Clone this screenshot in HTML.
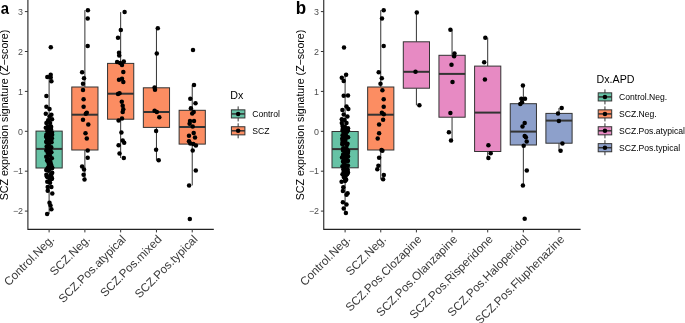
<!DOCTYPE html>
<html><head><meta charset="utf-8"><style>
*{margin:0;padding:0}
html,body{width:685px;height:323px;background:#fff;overflow:hidden}
svg{display:block;will-change:transform;font-family:"Liberation Sans",sans-serif}
.wh{stroke:#333;stroke-width:1}
.bx{stroke:#333;stroke-width:1}
.md{stroke:#333;stroke-width:2}
.ax{stroke:#222;stroke-width:1.1}
.tk{stroke:#333;stroke-width:1}
.yt{font-size:8.9px;fill:#4d4d4d;text-anchor:end}
.xt{font-size:11.7px;fill:#3a3a3a;text-anchor:end}
.ytl{font-size:10.6px;fill:#000;text-anchor:middle}
.let{font-size:16px;font-weight:bold;fill:#000}
.lt{font-size:10.7px;fill:#000}
.ll{font-size:8.6px;fill:#000}
circle{fill:#000}
</style></head><body>
<svg width="685" height="323" viewBox="0 0 685 323">
<line x1="49.1" y1="75" x2="49.1" y2="131.1" class="wh"/>
<line x1="49.1" y1="168" x2="49.1" y2="214" class="wh"/>
<rect x="36" y="131.1" width="26.2" height="36.9" fill="#66C2A5" class="bx"/>
<line x1="36" y1="148.9" x2="62.2" y2="148.9" class="md"/>
<line x1="84.88" y1="10.2" x2="84.88" y2="87" class="wh"/>
<line x1="84.88" y1="150" x2="84.88" y2="179.4" class="wh"/>
<rect x="71.78" y="87" width="26.2" height="63" fill="#FC8D62" class="bx"/>
<line x1="71.78" y1="114.7" x2="97.98" y2="114.7" class="md"/>
<line x1="120.66" y1="12.1" x2="120.66" y2="63.4" class="wh"/>
<line x1="120.66" y1="119.2" x2="120.66" y2="158" class="wh"/>
<rect x="107.56" y="63.4" width="26.2" height="55.8" fill="#FC8D62" class="bx"/>
<line x1="107.56" y1="93.7" x2="133.76" y2="93.7" class="md"/>
<line x1="156.44" y1="28.2" x2="156.44" y2="87.8" class="wh"/>
<line x1="156.44" y1="127.4" x2="156.44" y2="160.3" class="wh"/>
<rect x="143.34" y="87.8" width="26.2" height="39.6" fill="#FC8D62" class="bx"/>
<line x1="143.34" y1="112" x2="169.54" y2="112" class="md"/>
<line x1="192.22" y1="85.1" x2="192.22" y2="110.3" class="wh"/>
<line x1="192.22" y1="144.1" x2="192.22" y2="185.4" class="wh"/>
<rect x="179.12" y="110.3" width="26.2" height="33.8" fill="#FC8D62" class="bx"/>
<line x1="179.12" y1="127" x2="205.32" y2="127" class="md"/>
<circle cx="50.8" cy="47.2" r="2.25"/>
<circle cx="47.3" cy="77.1" r="2.25"/>
<circle cx="50.7" cy="74.7" r="2.25"/>
<circle cx="50.7" cy="77.4" r="2.25"/>
<circle cx="51.4" cy="81.2" r="2.25"/>
<circle cx="46.4" cy="96" r="2.25"/>
<circle cx="46.4" cy="106.8" r="2.25"/>
<circle cx="49.5" cy="109.1" r="2.25"/>
<circle cx="45.8" cy="113.7" r="2.25"/>
<circle cx="51.4" cy="114.7" r="2.25"/>
<circle cx="49.5" cy="116.5" r="2.25"/>
<circle cx="52" cy="119.3" r="2.25"/>
<circle cx="48.2" cy="120.2" r="2.25"/>
<circle cx="46.4" cy="123" r="2.25"/>
<circle cx="50.1" cy="123" r="2.25"/>
<circle cx="45.8" cy="127.7" r="2.25"/>
<circle cx="49.2" cy="128" r="2.25"/>
<circle cx="51" cy="127.7" r="2.25"/>
<circle cx="47.7" cy="187" r="2.25"/>
<circle cx="51.4" cy="187" r="2.25"/>
<circle cx="47.7" cy="190.7" r="2.25"/>
<circle cx="52.3" cy="193.5" r="2.25"/>
<circle cx="49.5" cy="202.8" r="2.25"/>
<circle cx="50.5" cy="205.6" r="2.25"/>
<circle cx="51.4" cy="209.3" r="2.25"/>
<circle cx="47.1" cy="214" r="2.25"/>
<circle cx="49.47" cy="128.26" r="2.25"/>
<circle cx="48.89" cy="130.62" r="2.25"/>
<circle cx="49.64" cy="128.54" r="2.25"/>
<circle cx="49.17" cy="126.92" r="2.25"/>
<circle cx="50.92" cy="129.15" r="2.25"/>
<circle cx="47.88" cy="126.47" r="2.25"/>
<circle cx="51.02" cy="126.45" r="2.25"/>
<circle cx="46.26" cy="156.66" r="2.25"/>
<circle cx="51.98" cy="167.34" r="2.25"/>
<circle cx="49.82" cy="155.2" r="2.25"/>
<circle cx="46.09" cy="136.83" r="2.25"/>
<circle cx="46.37" cy="150.55" r="2.25"/>
<circle cx="47.5" cy="138.04" r="2.25"/>
<circle cx="48.88" cy="132.11" r="2.25"/>
<circle cx="51.22" cy="147.3" r="2.25"/>
<circle cx="49.97" cy="150.21" r="2.25"/>
<circle cx="50.11" cy="149.49" r="2.25"/>
<circle cx="47.72" cy="147.92" r="2.25"/>
<circle cx="52.17" cy="167.91" r="2.25"/>
<circle cx="50.39" cy="162.09" r="2.25"/>
<circle cx="47.42" cy="142.67" r="2.25"/>
<circle cx="46.44" cy="141.69" r="2.25"/>
<circle cx="48.48" cy="159.35" r="2.25"/>
<circle cx="48.4" cy="162.32" r="2.25"/>
<circle cx="51.25" cy="166.45" r="2.25"/>
<circle cx="47.3" cy="131.02" r="2.25"/>
<circle cx="48.91" cy="164.68" r="2.25"/>
<circle cx="48.46" cy="167.27" r="2.25"/>
<circle cx="49.9" cy="133.7" r="2.25"/>
<circle cx="47.67" cy="159.8" r="2.25"/>
<circle cx="48.06" cy="134.22" r="2.25"/>
<circle cx="50.7" cy="166.67" r="2.25"/>
<circle cx="47.53" cy="135.37" r="2.25"/>
<circle cx="46.37" cy="134.74" r="2.25"/>
<circle cx="47.1" cy="160.49" r="2.25"/>
<circle cx="48.77" cy="151.69" r="2.25"/>
<circle cx="50.54" cy="138.06" r="2.25"/>
<circle cx="49.99" cy="135.85" r="2.25"/>
<circle cx="48.61" cy="135.31" r="2.25"/>
<circle cx="47.67" cy="138.88" r="2.25"/>
<circle cx="50.98" cy="166.92" r="2.25"/>
<circle cx="51.49" cy="142.25" r="2.25"/>
<circle cx="48.44" cy="138.8" r="2.25"/>
<circle cx="49.98" cy="162.61" r="2.25"/>
<circle cx="52.13" cy="134.71" r="2.25"/>
<circle cx="47.6" cy="138.89" r="2.25"/>
<circle cx="48.04" cy="159.59" r="2.25"/>
<circle cx="46.46" cy="141.96" r="2.25"/>
<circle cx="49.61" cy="134.33" r="2.25"/>
<circle cx="49.73" cy="139.99" r="2.25"/>
<circle cx="48.81" cy="144.75" r="2.25"/>
<circle cx="49" cy="166.49" r="2.25"/>
<circle cx="51.37" cy="152.26" r="2.25"/>
<circle cx="46.96" cy="137.76" r="2.25"/>
<circle cx="51.07" cy="164.61" r="2.25"/>
<circle cx="47.18" cy="140.23" r="2.25"/>
<circle cx="51.83" cy="158.36" r="2.25"/>
<circle cx="51.89" cy="138.27" r="2.25"/>
<circle cx="49.74" cy="163.64" r="2.25"/>
<circle cx="46.64" cy="146.59" r="2.25"/>
<circle cx="51.97" cy="132.43" r="2.25"/>
<circle cx="50.37" cy="139.82" r="2.25"/>
<circle cx="51.11" cy="140.51" r="2.25"/>
<circle cx="47.82" cy="153.07" r="2.25"/>
<circle cx="50.47" cy="137.49" r="2.25"/>
<circle cx="47.42" cy="169.03" r="2.25"/>
<circle cx="51.28" cy="176.39" r="2.25"/>
<circle cx="47.74" cy="177.21" r="2.25"/>
<circle cx="47.26" cy="181.76" r="2.25"/>
<circle cx="47.67" cy="168.25" r="2.25"/>
<circle cx="46.37" cy="174.69" r="2.25"/>
<circle cx="48.29" cy="170.64" r="2.25"/>
<circle cx="46.82" cy="176.58" r="2.25"/>
<circle cx="51.52" cy="173.43" r="2.25"/>
<circle cx="50.07" cy="182.71" r="2.25"/>
<circle cx="49.62" cy="178.37" r="2.25"/>
<circle cx="46.22" cy="170.11" r="2.25"/>
<circle cx="51.64" cy="168.27" r="2.25"/>
<circle cx="51.97" cy="178.51" r="2.25"/>
<circle cx="49.94" cy="168.32" r="2.25"/>
<circle cx="50.53" cy="175.23" r="2.25"/>
<circle cx="52.2" cy="172.78" r="2.25"/>
<circle cx="49.39" cy="169.13" r="2.25"/>
<circle cx="51.58" cy="179.06" r="2.25"/>
<circle cx="50.36" cy="179.06" r="2.25"/>
<circle cx="87.9" cy="10.2" r="2.25"/>
<circle cx="87.7" cy="18.6" r="2.25"/>
<circle cx="87.7" cy="46.1" r="2.25"/>
<circle cx="82.1" cy="72.3" r="2.25"/>
<circle cx="84" cy="78.3" r="2.25"/>
<circle cx="83" cy="83.8" r="2.25"/>
<circle cx="83" cy="90" r="2.25"/>
<circle cx="83.6" cy="99.3" r="2.25"/>
<circle cx="83.6" cy="106.7" r="2.25"/>
<circle cx="86.8" cy="112.7" r="2.25"/>
<circle cx="85.8" cy="113.7" r="2.25"/>
<circle cx="83" cy="119.7" r="2.25"/>
<circle cx="88.3" cy="124.5" r="2.25"/>
<circle cx="85.5" cy="133.3" r="2.25"/>
<circle cx="86.8" cy="138.5" r="2.25"/>
<circle cx="87.7" cy="150.5" r="2.25"/>
<circle cx="87.7" cy="157.8" r="2.25"/>
<circle cx="82.1" cy="166.4" r="2.25"/>
<circle cx="84" cy="169.5" r="2.25"/>
<circle cx="83.6" cy="174.7" r="2.25"/>
<circle cx="84.5" cy="179.4" r="2.25"/>
<circle cx="124.6" cy="12.1" r="2.25"/>
<circle cx="120.8" cy="30.1" r="2.25"/>
<circle cx="118" cy="37.8" r="2.25"/>
<circle cx="119" cy="52.8" r="2.25"/>
<circle cx="119.2" cy="55.6" r="2.25"/>
<circle cx="117.1" cy="62.1" r="2.25"/>
<circle cx="120.1" cy="63" r="2.25"/>
<circle cx="123.8" cy="61.5" r="2.25"/>
<circle cx="122" cy="64.9" r="2.25"/>
<circle cx="123.3" cy="72" r="2.25"/>
<circle cx="119" cy="79.8" r="2.25"/>
<circle cx="122" cy="78.8" r="2.25"/>
<circle cx="123.3" cy="82" r="2.25"/>
<circle cx="118" cy="94.1" r="2.25"/>
<circle cx="119.5" cy="93.3" r="2.25"/>
<circle cx="121.8" cy="101.8" r="2.25"/>
<circle cx="122.7" cy="105.7" r="2.25"/>
<circle cx="123.3" cy="109.2" r="2.25"/>
<circle cx="122.7" cy="112.1" r="2.25"/>
<circle cx="122" cy="118.6" r="2.25"/>
<circle cx="118.6" cy="120.5" r="2.25"/>
<circle cx="121.4" cy="132.6" r="2.25"/>
<circle cx="122.7" cy="140.6" r="2.25"/>
<circle cx="124.2" cy="142.8" r="2.25"/>
<circle cx="118.6" cy="145.2" r="2.25"/>
<circle cx="119.5" cy="153.6" r="2.25"/>
<circle cx="123.8" cy="158" r="2.25"/>
<circle cx="157.8" cy="28.2" r="2.25"/>
<circle cx="156.8" cy="53.6" r="2.25"/>
<circle cx="154.6" cy="87.4" r="2.25"/>
<circle cx="155" cy="89.7" r="2.25"/>
<circle cx="154.6" cy="110.7" r="2.25"/>
<circle cx="156.8" cy="112" r="2.25"/>
<circle cx="159.3" cy="117.2" r="2.25"/>
<circle cx="156.1" cy="131" r="2.25"/>
<circle cx="156.1" cy="149.7" r="2.25"/>
<circle cx="158.7" cy="160.3" r="2.25"/>
<circle cx="193" cy="50.1" r="2.25"/>
<circle cx="194" cy="85.1" r="2.25"/>
<circle cx="190.3" cy="98.7" r="2.25"/>
<circle cx="195.5" cy="103.3" r="2.25"/>
<circle cx="190.9" cy="108.3" r="2.25"/>
<circle cx="193.7" cy="112" r="2.25"/>
<circle cx="192.2" cy="113.5" r="2.25"/>
<circle cx="190" cy="120.9" r="2.25"/>
<circle cx="194" cy="120.9" r="2.25"/>
<circle cx="189.6" cy="123.7" r="2.25"/>
<circle cx="192.7" cy="126.5" r="2.25"/>
<circle cx="193.7" cy="133" r="2.25"/>
<circle cx="189" cy="135.7" r="2.25"/>
<circle cx="195" cy="137.6" r="2.25"/>
<circle cx="189" cy="141.3" r="2.25"/>
<circle cx="190.3" cy="143.5" r="2.25"/>
<circle cx="193.3" cy="144.1" r="2.25"/>
<circle cx="195.9" cy="145.4" r="2.25"/>
<circle cx="192.7" cy="150.6" r="2.25"/>
<circle cx="195.8" cy="170.5" r="2.25"/>
<circle cx="189.1" cy="185.4" r="2.25"/>
<circle cx="189.8" cy="218.9" r="2.25"/>
<path d="M27.9 0V229.4H213.82" class="ax" fill="none"/>
<line x1="24.9" y1="11.6" x2="27.9" y2="11.6" class="tk"/>
<text x="23" y="14.8" class="yt">3</text>
<line x1="24.9" y1="51.5" x2="27.9" y2="51.5" class="tk"/>
<text x="23" y="54.7" class="yt">2</text>
<line x1="24.9" y1="91.4" x2="27.9" y2="91.4" class="tk"/>
<text x="23" y="94.6" class="yt">1</text>
<line x1="24.9" y1="131.3" x2="27.9" y2="131.3" class="tk"/>
<text x="23" y="134.5" class="yt">0</text>
<line x1="24.9" y1="171.2" x2="27.9" y2="171.2" class="tk"/>
<text x="23" y="174.4" class="yt">−1</text>
<line x1="24.9" y1="211.1" x2="27.9" y2="211.1" class="tk"/>
<text x="23" y="214.3" class="yt">−2</text>
<line x1="49.1" y1="229.4" x2="49.1" y2="232.4" class="tk"/>
<text transform="translate(55.1,240) rotate(-45)" class="xt">Control.Neg.</text>
<line x1="84.88" y1="229.4" x2="84.88" y2="232.4" class="tk"/>
<text transform="translate(90.88,240) rotate(-45)" class="xt">SCZ.Neg.</text>
<line x1="120.66" y1="229.4" x2="120.66" y2="232.4" class="tk"/>
<text transform="translate(126.66,240) rotate(-45)" class="xt">SCZ.Pos.atypical</text>
<line x1="156.44" y1="229.4" x2="156.44" y2="232.4" class="tk"/>
<text transform="translate(162.44,240) rotate(-45)" class="xt">SCZ.Pos.mixed</text>
<line x1="192.22" y1="229.4" x2="192.22" y2="232.4" class="tk"/>
<text transform="translate(198.22,240) rotate(-45)" class="xt">SCZ.Pos.typical</text>
<text transform="translate(7.7,115) rotate(-90)" class="ytl">SCZ expression signature (Z−score)</text>
<text transform="translate(0.7,13.5) scale(0.93,1.07)" class="let">a</text>
<line x1="345.1" y1="74.8" x2="345.1" y2="131.5" class="wh"/>
<line x1="345.1" y1="167.8" x2="345.1" y2="213.1" class="wh"/>
<rect x="332" y="131.5" width="26.2" height="36.3" fill="#66C2A5" class="bx"/>
<line x1="332" y1="149.1" x2="358.2" y2="149.1" class="md"/>
<line x1="380.75" y1="10.2" x2="380.75" y2="87" class="wh"/>
<line x1="380.75" y1="150" x2="380.75" y2="179.3" class="wh"/>
<rect x="367.65" y="87" width="26.2" height="63" fill="#FC8D62" class="bx"/>
<line x1="367.65" y1="114.7" x2="393.85" y2="114.7" class="md"/>
<line x1="416.4" y1="12.5" x2="416.4" y2="41.8" class="wh"/>
<line x1="416.4" y1="88.2" x2="416.4" y2="105.3" class="wh"/>
<rect x="403.3" y="41.8" width="26.2" height="46.4" fill="#E78AC3" class="bx"/>
<line x1="403.3" y1="71.8" x2="429.5" y2="71.8" class="md"/>
<line x1="452.05" y1="29.8" x2="452.05" y2="55.3" class="wh"/>
<line x1="452.05" y1="117.2" x2="452.05" y2="140.5" class="wh"/>
<rect x="438.95" y="55.3" width="26.2" height="61.9" fill="#E78AC3" class="bx"/>
<line x1="438.95" y1="73.9" x2="465.15" y2="73.9" class="md"/>
<line x1="487.7" y1="37.7" x2="487.7" y2="66.1" class="wh"/>
<line x1="487.7" y1="151.5" x2="487.7" y2="158" class="wh"/>
<rect x="474.6" y="66.1" width="26.2" height="85.4" fill="#E78AC3" class="bx"/>
<line x1="474.6" y1="112.6" x2="500.8" y2="112.6" class="md"/>
<line x1="523.35" y1="85.6" x2="523.35" y2="103.7" class="wh"/>
<line x1="523.35" y1="145" x2="523.35" y2="185.5" class="wh"/>
<rect x="510.25" y="103.7" width="26.2" height="41.3" fill="#8DA0CB" class="bx"/>
<line x1="510.25" y1="131.6" x2="536.45" y2="131.6" class="md"/>
<line x1="559" y1="108" x2="559" y2="113.4" class="wh"/>
<line x1="559" y1="143.2" x2="559" y2="150.8" class="wh"/>
<rect x="545.9" y="113.4" width="26.2" height="29.8" fill="#8DA0CB" class="bx"/>
<line x1="545.9" y1="120.6" x2="572.1" y2="120.6" class="md"/>
<circle cx="344" cy="47.4" r="2.25"/>
<circle cx="346.1" cy="74.8" r="2.25"/>
<circle cx="341.8" cy="77.8" r="2.25"/>
<circle cx="343.7" cy="80.9" r="2.25"/>
<circle cx="343.7" cy="95.8" r="2.25"/>
<circle cx="348" cy="95.4" r="2.25"/>
<circle cx="346.5" cy="106.5" r="2.25"/>
<circle cx="342.4" cy="109.9" r="2.25"/>
<circle cx="348.3" cy="109" r="2.25"/>
<circle cx="343.7" cy="114.5" r="2.25"/>
<circle cx="347.4" cy="116.4" r="2.25"/>
<circle cx="341.8" cy="119.2" r="2.25"/>
<circle cx="344.6" cy="120.1" r="2.25"/>
<circle cx="341.8" cy="122.9" r="2.25"/>
<circle cx="346.5" cy="122.9" r="2.25"/>
<circle cx="344.5" cy="127.5" r="2.25"/>
<circle cx="348" cy="128.2" r="2.25"/>
<circle cx="341.6" cy="181.8" r="2.25"/>
<circle cx="343.3" cy="187.2" r="2.25"/>
<circle cx="342.9" cy="191.1" r="2.25"/>
<circle cx="347.6" cy="193.2" r="2.25"/>
<circle cx="346.5" cy="194.8" r="2.25"/>
<circle cx="342.9" cy="202.3" r="2.25"/>
<circle cx="346.5" cy="204.5" r="2.25"/>
<circle cx="343.7" cy="208.4" r="2.25"/>
<circle cx="345.9" cy="213.1" r="2.25"/>
<circle cx="347.88" cy="130.62" r="2.25"/>
<circle cx="342.52" cy="130.46" r="2.25"/>
<circle cx="344.63" cy="128.96" r="2.25"/>
<circle cx="342.81" cy="128.65" r="2.25"/>
<circle cx="344.76" cy="126.96" r="2.25"/>
<circle cx="344.82" cy="127.11" r="2.25"/>
<circle cx="342.53" cy="126.12" r="2.25"/>
<circle cx="344.61" cy="157.27" r="2.25"/>
<circle cx="346.55" cy="149.97" r="2.25"/>
<circle cx="342.36" cy="144.28" r="2.25"/>
<circle cx="345.65" cy="159.97" r="2.25"/>
<circle cx="345.85" cy="155.34" r="2.25"/>
<circle cx="344.25" cy="166.92" r="2.25"/>
<circle cx="344.29" cy="159.11" r="2.25"/>
<circle cx="346.1" cy="152.17" r="2.25"/>
<circle cx="342.53" cy="142.63" r="2.25"/>
<circle cx="346.45" cy="148.54" r="2.25"/>
<circle cx="344.77" cy="152.85" r="2.25"/>
<circle cx="343.13" cy="154.77" r="2.25"/>
<circle cx="344.01" cy="137.61" r="2.25"/>
<circle cx="343.21" cy="161.19" r="2.25"/>
<circle cx="342.61" cy="135.23" r="2.25"/>
<circle cx="343.71" cy="132.44" r="2.25"/>
<circle cx="347.09" cy="152.19" r="2.25"/>
<circle cx="344.29" cy="143.24" r="2.25"/>
<circle cx="343.89" cy="141.67" r="2.25"/>
<circle cx="345.4" cy="159.77" r="2.25"/>
<circle cx="342.66" cy="140.56" r="2.25"/>
<circle cx="346.38" cy="160" r="2.25"/>
<circle cx="343.48" cy="161.66" r="2.25"/>
<circle cx="347.7" cy="151.18" r="2.25"/>
<circle cx="347.86" cy="152.93" r="2.25"/>
<circle cx="348.05" cy="137.19" r="2.25"/>
<circle cx="344.58" cy="133.07" r="2.25"/>
<circle cx="347.02" cy="131.86" r="2.25"/>
<circle cx="348.04" cy="156.43" r="2.25"/>
<circle cx="347.88" cy="160.78" r="2.25"/>
<circle cx="348.13" cy="150.93" r="2.25"/>
<circle cx="344.15" cy="158.71" r="2.25"/>
<circle cx="344.34" cy="167.05" r="2.25"/>
<circle cx="342.47" cy="138.15" r="2.25"/>
<circle cx="343.22" cy="148.24" r="2.25"/>
<circle cx="347.89" cy="165.54" r="2.25"/>
<circle cx="342.64" cy="138.99" r="2.25"/>
<circle cx="343.05" cy="150.57" r="2.25"/>
<circle cx="347.04" cy="151.11" r="2.25"/>
<circle cx="344.61" cy="140.36" r="2.25"/>
<circle cx="344.76" cy="164.33" r="2.25"/>
<circle cx="347.53" cy="143.68" r="2.25"/>
<circle cx="347.55" cy="161.11" r="2.25"/>
<circle cx="344.56" cy="156.45" r="2.25"/>
<circle cx="347.14" cy="156.64" r="2.25"/>
<circle cx="343.48" cy="154.66" r="2.25"/>
<circle cx="344.54" cy="141.92" r="2.25"/>
<circle cx="345.45" cy="159.55" r="2.25"/>
<circle cx="347.12" cy="151.35" r="2.25"/>
<circle cx="345.91" cy="135.01" r="2.25"/>
<circle cx="345.47" cy="143.3" r="2.25"/>
<circle cx="343.54" cy="161.91" r="2.25"/>
<circle cx="342.49" cy="166.21" r="2.25"/>
<circle cx="345.36" cy="151.79" r="2.25"/>
<circle cx="345.48" cy="139.7" r="2.25"/>
<circle cx="344.79" cy="148.42" r="2.25"/>
<circle cx="342.02" cy="157.58" r="2.25"/>
<circle cx="346.87" cy="144.96" r="2.25"/>
<circle cx="347.38" cy="170.13" r="2.25"/>
<circle cx="346.22" cy="171.05" r="2.25"/>
<circle cx="344.79" cy="170.6" r="2.25"/>
<circle cx="342.51" cy="174.34" r="2.25"/>
<circle cx="344.98" cy="178.49" r="2.25"/>
<circle cx="345.34" cy="178.34" r="2.25"/>
<circle cx="345.26" cy="176.34" r="2.25"/>
<circle cx="347.57" cy="172.47" r="2.25"/>
<circle cx="347.44" cy="169.3" r="2.25"/>
<circle cx="345.09" cy="180.95" r="2.25"/>
<circle cx="346.17" cy="179.65" r="2.25"/>
<circle cx="343.81" cy="177.08" r="2.25"/>
<circle cx="344.17" cy="172.79" r="2.25"/>
<circle cx="347.95" cy="172.53" r="2.25"/>
<circle cx="344.4" cy="173.12" r="2.25"/>
<circle cx="347.06" cy="174.29" r="2.25"/>
<circle cx="345.43" cy="175.17" r="2.25"/>
<circle cx="343.72" cy="171.83" r="2.25"/>
<circle cx="343.35" cy="169.34" r="2.25"/>
<circle cx="347.28" cy="171.96" r="2.25"/>
<circle cx="383.7" cy="10.2" r="2.25"/>
<circle cx="382" cy="18.6" r="2.25"/>
<circle cx="383.7" cy="46.1" r="2.25"/>
<circle cx="378.7" cy="72.3" r="2.25"/>
<circle cx="381.8" cy="78.3" r="2.25"/>
<circle cx="380.5" cy="83.8" r="2.25"/>
<circle cx="382.4" cy="90.3" r="2.25"/>
<circle cx="383.7" cy="99.3" r="2.25"/>
<circle cx="383.7" cy="106.7" r="2.25"/>
<circle cx="381.9" cy="112.8" r="2.25"/>
<circle cx="383.8" cy="114.2" r="2.25"/>
<circle cx="383.1" cy="119.8" r="2.25"/>
<circle cx="379.1" cy="124.4" r="2.25"/>
<circle cx="379.1" cy="133.3" r="2.25"/>
<circle cx="377.7" cy="138.4" r="2.25"/>
<circle cx="381.5" cy="150" r="2.25"/>
<circle cx="382.4" cy="150.7" r="2.25"/>
<circle cx="379.1" cy="157.7" r="2.25"/>
<circle cx="378.4" cy="165.8" r="2.25"/>
<circle cx="377.3" cy="169.3" r="2.25"/>
<circle cx="383.8" cy="175.1" r="2.25"/>
<circle cx="383.1" cy="179.3" r="2.25"/>
<circle cx="416.8" cy="12.5" r="2.25"/>
<circle cx="415.5" cy="71.8" r="2.25"/>
<circle cx="419.4" cy="105.3" r="2.25"/>
<circle cx="450.4" cy="29.8" r="2.25"/>
<circle cx="454.5" cy="53.5" r="2.25"/>
<circle cx="454.1" cy="56.2" r="2.25"/>
<circle cx="451.5" cy="64.7" r="2.25"/>
<circle cx="452.5" cy="82" r="2.25"/>
<circle cx="450.4" cy="112.9" r="2.25"/>
<circle cx="448.9" cy="132.3" r="2.25"/>
<circle cx="451" cy="140.5" r="2.25"/>
<circle cx="485.3" cy="37.7" r="2.25"/>
<circle cx="484.2" cy="62.2" r="2.25"/>
<circle cx="484.9" cy="79.5" r="2.25"/>
<circle cx="488.4" cy="145.2" r="2.25"/>
<circle cx="490.7" cy="153.3" r="2.25"/>
<circle cx="488.4" cy="158" r="2.25"/>
<circle cx="522.9" cy="85.6" r="2.25"/>
<circle cx="521.3" cy="98.7" r="2.25"/>
<circle cx="525" cy="98.7" r="2.25"/>
<circle cx="522" cy="102.2" r="2.25"/>
<circle cx="520.3" cy="103.9" r="2.25"/>
<circle cx="524.7" cy="123.1" r="2.25"/>
<circle cx="522.5" cy="126.5" r="2.25"/>
<circle cx="524.7" cy="135.9" r="2.25"/>
<circle cx="525.9" cy="137.3" r="2.25"/>
<circle cx="526.7" cy="141.4" r="2.25"/>
<circle cx="523.7" cy="145.8" r="2.25"/>
<circle cx="526.8" cy="170.4" r="2.25"/>
<circle cx="522.9" cy="185.5" r="2.25"/>
<circle cx="524.7" cy="218.8" r="2.25"/>
<circle cx="561.7" cy="108" r="2.25"/>
<circle cx="558" cy="113.4" r="2.25"/>
<circle cx="558.9" cy="121" r="2.25"/>
<circle cx="562.4" cy="143.6" r="2.25"/>
<circle cx="560.6" cy="150.8" r="2.25"/>
<path d="M323.75 0V229.4H580.6" class="ax" fill="none"/>
<line x1="320.9" y1="11.6" x2="323.9" y2="11.6" class="tk"/>
<text x="319" y="14.8" class="yt">3</text>
<line x1="320.9" y1="51.5" x2="323.9" y2="51.5" class="tk"/>
<text x="319" y="54.7" class="yt">2</text>
<line x1="320.9" y1="91.4" x2="323.9" y2="91.4" class="tk"/>
<text x="319" y="94.6" class="yt">1</text>
<line x1="320.9" y1="131.3" x2="323.9" y2="131.3" class="tk"/>
<text x="319" y="134.5" class="yt">0</text>
<line x1="320.9" y1="171.2" x2="323.9" y2="171.2" class="tk"/>
<text x="319" y="174.4" class="yt">−1</text>
<line x1="320.9" y1="211.1" x2="323.9" y2="211.1" class="tk"/>
<text x="319" y="214.3" class="yt">−2</text>
<line x1="345.1" y1="229.4" x2="345.1" y2="232.4" class="tk"/>
<text transform="translate(351.1,240) rotate(-45)" class="xt">Control.Neg.</text>
<line x1="380.75" y1="229.4" x2="380.75" y2="232.4" class="tk"/>
<text transform="translate(386.75,240) rotate(-45)" class="xt">SCZ.Neg.</text>
<line x1="416.4" y1="229.4" x2="416.4" y2="232.4" class="tk"/>
<text transform="translate(422.4,240) rotate(-45)" class="xt">SCZ.Pos.Clozapine</text>
<line x1="452.05" y1="229.4" x2="452.05" y2="232.4" class="tk"/>
<text transform="translate(458.05,240) rotate(-45)" class="xt">SCZ.Pos.Olanzapine</text>
<line x1="487.7" y1="229.4" x2="487.7" y2="232.4" class="tk"/>
<text transform="translate(493.7,240) rotate(-45)" class="xt">SCZ.Pos.Risperidone</text>
<line x1="523.35" y1="229.4" x2="523.35" y2="232.4" class="tk"/>
<text transform="translate(529.35,240) rotate(-45)" class="xt">SCZ.Pos.Haloperidol</text>
<line x1="559" y1="229.4" x2="559" y2="232.4" class="tk"/>
<text transform="translate(565,240) rotate(-45)" class="xt">SCZ.Pos.Fluphenazine</text>
<text transform="translate(303.7,115) rotate(-90)" class="ytl">SCZ expression signature (Z−score)</text>
<text transform="translate(295.7,13.6) scale(1.0,1.04)" class="let" style="font-size:17px">b</text>
<text x="230.3" y="99.2" class="lt">Dx</text>
<line x1="238.15" y1="106.4" x2="238.15" y2="121.4" class="wh"/>
<rect x="231.4" y="109.85" width="13.5" height="8.1" fill="#66C2A5" class="bx"/>
<line x1="231.4" y1="113.9" x2="244.9" y2="113.9" class="md" style="stroke-width:1.5"/>
<circle cx="238.15" cy="113.9" r="2.25"/>
<text x="252.2" y="117.1" class="ll">Control</text>
<line x1="238.15" y1="123.3" x2="238.15" y2="138.3" class="wh"/>
<rect x="231.4" y="126.75" width="13.5" height="8.1" fill="#FC8D62" class="bx"/>
<line x1="231.4" y1="130.8" x2="244.9" y2="130.8" class="md" style="stroke-width:1.5"/>
<circle cx="238.15" cy="130.8" r="2.25"/>
<text x="252.2" y="134" class="ll">SCZ</text>
<text x="596.5" y="82.5" class="lt">Dx.APD</text>
<line x1="604.95" y1="89.4" x2="604.95" y2="104.4" class="wh"/>
<rect x="598.2" y="92.85" width="13.5" height="8.1" fill="#66C2A5" class="bx"/>
<line x1="598.2" y1="96.9" x2="611.7" y2="96.9" class="md" style="stroke-width:1.5"/>
<circle cx="604.95" cy="96.9" r="2.25"/>
<text x="619" y="100.1" class="ll">Control.Neg.</text>
<line x1="604.95" y1="106.4" x2="604.95" y2="121.4" class="wh"/>
<rect x="598.2" y="109.85" width="13.5" height="8.1" fill="#FC8D62" class="bx"/>
<line x1="598.2" y1="113.9" x2="611.7" y2="113.9" class="md" style="stroke-width:1.5"/>
<circle cx="604.95" cy="113.9" r="2.25"/>
<text x="619" y="117.1" class="ll">SCZ.Neg.</text>
<line x1="604.95" y1="123.3" x2="604.95" y2="138.3" class="wh"/>
<rect x="598.2" y="126.75" width="13.5" height="8.1" fill="#E78AC3" class="bx"/>
<line x1="598.2" y1="130.8" x2="611.7" y2="130.8" class="md" style="stroke-width:1.5"/>
<circle cx="604.95" cy="130.8" r="2.25"/>
<text x="619" y="134" class="ll">SCZ.Pos.atypical</text>
<line x1="604.95" y1="140.2" x2="604.95" y2="155.2" class="wh"/>
<rect x="598.2" y="143.65" width="13.5" height="8.1" fill="#8DA0CB" class="bx"/>
<line x1="598.2" y1="147.7" x2="611.7" y2="147.7" class="md" style="stroke-width:1.5"/>
<circle cx="604.95" cy="147.7" r="2.25"/>
<text x="619" y="150.9" class="ll">SCZ.Pos.typical</text>
</svg>
</body></html>
